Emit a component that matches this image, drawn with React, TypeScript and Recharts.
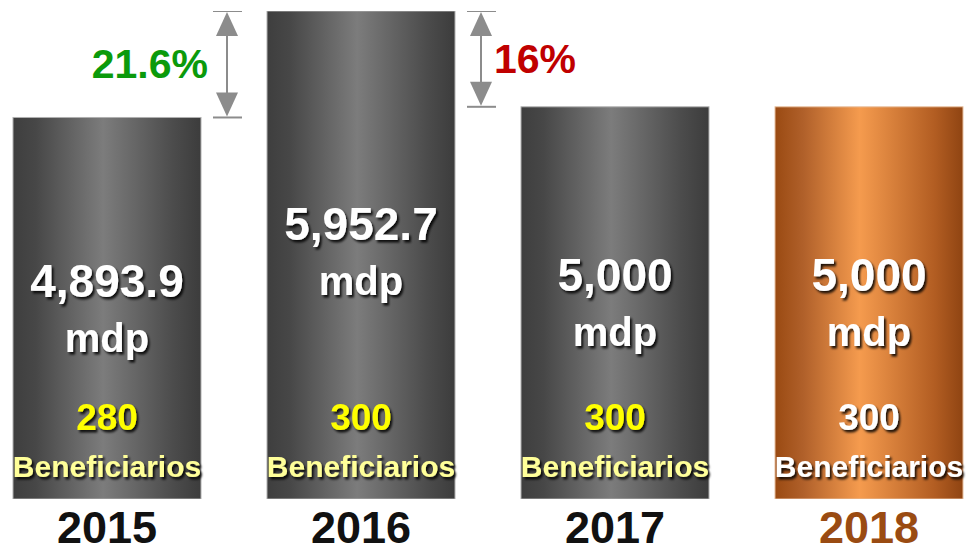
import React from 'react';
import { BarChart, Bar, XAxis, YAxis, LabelList } from 'recharts';

const years = ['2015', '2016', '2017', '2018'];
const montos = [4893.9, 5952.7, 5000, 5000];
const montoLabels = ['4,893.9', '5,952.7', '5,000', '5,000'];
const beneficiarios = [280, 300, 300, 300];
const cambios = ['', '21.6%', '16%', ''];

const data = years.map((y, i) => ({
  year: y,
  monto: montos[i],
  montoLabel: montoLabels[i],
  benef: beneficiarios[i],
  cambio: cambios[i],
}));

const DMIN = 1100;
const DMAX = 5952.7;
const FONT = "'Century Gothic', 'Liberation Sans', Arial, sans-serif";
const HIGHLIGHT = '2018';

const Arrow = ({ x, y1, y2 }: { x: number; y1: number; y2: number }) => {
  const c = '#8c8c8c';
  const top = Math.min(y1, y2);
  const bot = Math.max(y1, y2);
  const ah = 25;
  const aw = 11;
  return (
    <g>
      <line x1={x - 14} x2={x + 15} y1={top} y2={top} stroke={c} strokeWidth={2} />
      <line x1={x - 14} x2={x + 15} y1={bot} y2={bot} stroke={c} strokeWidth={2} />
      <line x1={x} x2={x} y1={top + 5} y2={bot - 5} stroke={c} strokeWidth={2} />
      <polygon points={`${x},${top + 1} ${x - aw},${top + ah} ${x + aw},${top + ah}`} fill={c} />
      <polygon points={`${x},${bot - 1} ${x - aw},${bot - ah} ${x + aw},${bot - ah}`} fill={c} />
    </g>
  );
};

const BarShape = (props: any) => {
  const { x, y, width, height, index, payload } = props;
  const isHi = payload.year === HIGHLIGHT;
  const bottom = y + height;
  let annot = null;
  if (index > 0 && payload.cambio) {
    const prev = montos[index - 1];
    const cur = montos[index];
    const prevTop = bottom - (height * (prev - DMIN)) / (cur - DMIN);
    const ax = x - 40;
    const mid = (prevTop + y) / 2;
    const left = index === 1;
    annot = (
      <g>
        <Arrow x={ax} y1={prevTop} y2={y} />
        <text
          x={left ? ax - 19 : ax + 13}
          y={mid + 14}
          textAnchor={left ? 'end' : 'start'}
          fontFamily={FONT}
          fontWeight="bold"
          fontSize={41}
          fill={left ? '#0b9a0b' : '#c00000'}
        >
          {payload.cambio}
        </text>
      </g>
    );
  }
  return (
    <g>
      <rect
        x={x}
        y={y}
        width={width}
        height={height}
        fill={isHi ? 'url(#gOrange)' : 'url(#gGray)'}
        stroke={isHi ? '#e8c0a0' : '#b0b0b0'}
        strokeWidth={1}
      />
      {annot}
    </g>
  );
};

const ValueLabel = (props: any) => {
  const { x, y, width, height, index } = props;
  const d = data[index];
  const isHi = d.year === HIGHLIGHT;
  const cx = x + width / 2;
  const vb = y + height * 0.47;
  const bottom = y + height;
  return (
    <g fontFamily={FONT} fontWeight="bold" textAnchor="middle" filter="url(#tshadow)">
      <text x={cx} y={vb} fontSize={46} fill="#ffffff">{d.montoLabel}</text>
      <text x={cx} y={vb + 55} fontSize={40} fill="#ffffff">mdp</text>
      <text x={cx} y={bottom - 69} fontSize={37} fill={isHi ? '#ffffff' : '#ffff00'}>{d.benef}</text>
      <text x={cx} y={bottom - 22} fontSize={30} fill={isHi ? '#ffffff' : '#ffff99'}>Beneficiarios</text>
    </g>
  );
};

const YearTick = (props: any) => {
  const { x, y, payload } = props;
  const isHi = payload.value === HIGHLIGHT;
  return (
    <text
      x={x}
      y={y + 44}
      textAnchor="middle"
      fontFamily={FONT}
      fontWeight="bold"
      fontSize={45}
      fill={isHi ? '#9a4b12' : '#111111'}
    >
      {payload.value}
    </text>
  );
};

export default function App() {
  return (
    <div style={{ position: 'absolute', left: 0, top: 0, width: 968, height: 553, background: '#ffffff' }}>
      <BarChart
        width={968}
        height={553}
        data={data}
        margin={{ top: 11, right: -28, left: -20, bottom: 0 }}
      >
        <defs>
          <linearGradient id="gGray" x1="0" y1="0" x2="1" y2="0">
            <stop offset="0%" stopColor="#3e3e3e" />
            <stop offset="12%" stopColor="#474747" />
            <stop offset="48%" stopColor="#7c7c7c" />
            <stop offset="85%" stopColor="#4c4c4c" />
            <stop offset="100%" stopColor="#3c3c3c" />
          </linearGradient>
          <linearGradient id="gOrange" x1="0" y1="0" x2="1" y2="0">
            <stop offset="0%" stopColor="#9a4a12" />
            <stop offset="15%" stopColor="#b0602a" />
            <stop offset="45%" stopColor="#f59b4e" />
            <stop offset="85%" stopColor="#b25d22" />
            <stop offset="100%" stopColor="#8f4412" />
          </linearGradient>
          <filter id="tshadow" x="-20%" y="-20%" width="140%" height="160%">
            <feDropShadow dx="2" dy="2.5" stdDeviation="1.2" floodColor="#000000" floodOpacity="0.85" />
          </filter>
        </defs>
        <XAxis
          dataKey="year"
          height={54}
          axisLine={false}
          tickLine={false}
          tickSize={0}
          tickMargin={0}
          interval={0}
          tick={<YearTick />}
        />
        <YAxis hide type="number" domain={[DMIN, DMAX]} allowDataOverflow />
        <Bar dataKey="monto" barSize={188} shape={<BarShape />} isAnimationActive={false}>
          <LabelList dataKey="monto" content={<ValueLabel />} />
        </Bar>
      </BarChart>
    </div>
  );
}
